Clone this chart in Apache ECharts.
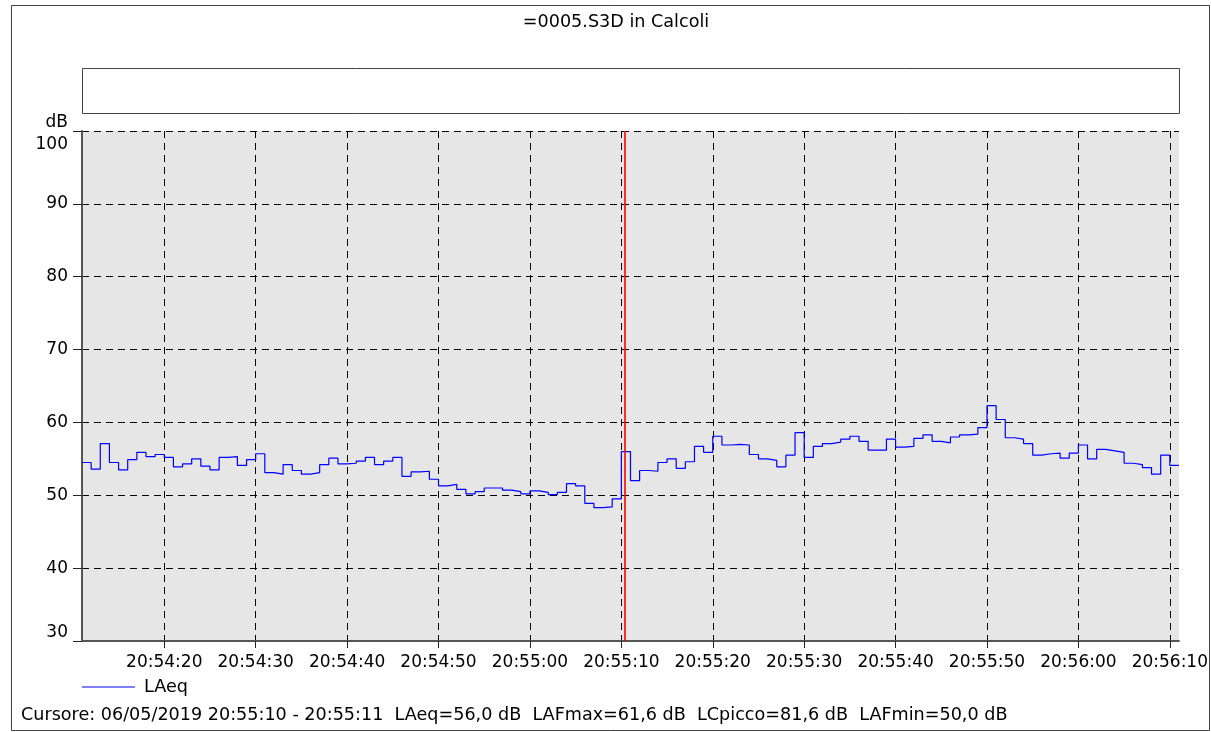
<!DOCTYPE html>
<html>
<head>
<meta charset="utf-8">
<script src="https://cdn.jsdelivr.net/npm/echarts@6/dist/echarts.min.js"></script>
<style>
html,body{margin:0;padding:0;background:#fff;}
#chart{width:1211px;height:732px;}
</style>
</head>
<body>
<div id="chart"></div>
<script>
// ---- data ----
const titleText = '=0005.S3D in Calcoli';
const seriesName = 'LAeq';
const startTime = '20:54:11';
const endTime = '20:56:11';
const cursorTime = '20:55:10';
const cursorText = 'Cursore: 06/05/2019 20:55:10 - 20:55:11  LAeq=56,0 dB  LAFmax=61,6 dB  LCpicco=81,6 dB  LAFmin=50,0 dB';
const yUnit = 'dB';
const yTicks = [30, 40, 50, 60, 70, 80, 90, 100];
const xTickLabels = ['20:54:20','20:54:30','20:54:40','20:54:50','20:55:00','20:55:10',
                     '20:55:20','20:55:30','20:55:40','20:55:50','20:56:00','20:56:10'];
// one value per second, starting at startTime
const laeq = [
  54.5, 53.6, 57.1, 54.5, 53.5, 54.9, 55.9, 55.3, 55.6, 55.2,
  53.9, 54.3, 55.0, 54.0, 53.5, 55.2, 55.3, 54.1, 54.9, 55.7,
  53.1, 52.9, 54.2, 53.4, 52.9, 53.1, 54.2, 55.1, 54.3, 54.4,
  54.7, 55.2, 54.2, 54.7, 55.2, 52.6, 53.2, 53.3, 52.2, 51.3,
  51.5, 50.8, 50.2, 50.5, 51.0, 51.0, 50.7, 50.5, 50.2, 50.6,
  50.4, 50.1, 50.4, 51.6, 51.3, 48.9, 48.3, 48.4, 49.5, 56.0,
  52.0, 53.4, 53.3, 54.5, 55.0, 53.7, 54.6, 56.7, 55.9, 58.1,
  56.9, 57.0, 56.9, 55.6, 55.0, 54.8, 53.9, 55.5, 58.6, 55.2,
  56.7, 57.1, 57.3, 57.7, 58.1, 57.4, 56.2, 56.2, 57.7, 56.6,
  56.7, 57.8, 58.3, 57.4, 57.2, 58.0, 58.3, 58.4, 59.3, 62.3,
  60.4, 57.9, 57.7, 57.1, 55.5, 55.7, 55.8, 55.1, 55.8, 56.9,
  55.0, 56.3, 56.1, 55.9, 54.4, 54.2, 53.8, 52.9, 55.5, 54.1
];

// ---- helpers ----
function toSec(t){ const p = t.split(':').map(Number); return p[0]*3600 + p[1]*60 + p[2]; }
function pad(n){ return (n < 10 ? '0' : '') + n; }
function fmt(s){ s = Math.round(s); return pad(Math.floor(s/3600)) + ':' + pad(Math.floor(s/60)%60) + ':' + pad(s%60); }

const t0 = toSec(startTime);
const t1 = toSec(endTime);
const stepData = laeq.map((v, i) => [t0 + i, v]);
stepData.push([t1, laeq[laeq.length - 1]]);
const xTickVals = xTickLabels.map(toSec);
const cursorX = toSec(cursorTime) + 0.4;

const FONT = 'DejaVu Sans';
const FS = 17;
const FS2 = 17.6;
const RED = '#ff0000';

const chart = echarts.init(document.getElementById('chart'), null, {renderer: 'canvas'});
chart.setOption({
  animation: false,
  backgroundColor: '#ffffff',
  title: {
    text: titleText,
    left: 611, top: 8,
    textAlign: 'center',
    textStyle: {fontFamily: FONT, fontSize: FS2, fontWeight: 'normal', color: '#000'}
  },
  legend: {
    left: 82, top: 678,
    padding: 0,
    itemWidth: 53, itemHeight: 1,
    icon: 'rect',
    data: [{name: seriesName, icon: 'rect', itemStyle: {color: '#0000ff'}}],
    textStyle: {fontFamily: FONT, fontSize: FS2, color: '#000', padding: [0, 0, 0, 4]}
  },
  grid: {
    left: 82, top: 131, right: 31, bottom: 91,
    show: true, backgroundColor: '#e6e6e6', borderWidth: 0
  },
  xAxis: {
    type: 'value',
    min: t0, max: t1,
    axisLine: {show: true, lineStyle: {color: '#555', width: 2}},
    axisTick: {show: true, length: 7, customValues: xTickVals, lineStyle: {color: '#222', width: 1}},
    axisLabel: {
      customValues: xTickVals,
      margin: 13,
      fontFamily: FONT, fontSize: FS, color: '#000',
      formatter: v => fmt(v)
    },
    splitLine: {show: true, lineStyle: {color: '#000', type: [7, 5], width: 1}}
  },
  yAxis: {
    type: 'value',
    min: yTicks[0], max: yTicks[yTicks.length - 1], interval: 10,
    name: yUnit,
    nameLocation: 'end',
    nameGap: 0,
    nameTextStyle: {fontFamily: FONT, fontSize: FS, color: '#000', align: 'right', verticalAlign: 'bottom', padding: [0, 14, 0, 0]},
    axisLine: {show: true, lineStyle: {color: '#555', width: 2}},
    axisTick: {show: true, length: 9, lineStyle: {color: '#222', width: 1}},
    axisLabel: {
      margin: 14,
      fontFamily: FONT, fontSize: FS, color: '#000',
      formatter: v => v === yTicks[yTicks.length - 1] ? '{top|' + v + '}' : (v === yTicks[0] ? '{bot|' + v + '}' : '' + v),
      rich: {
        top: {fontFamily: FONT, fontSize: FS, color: '#000', padding: [27, 0, 0, 0]},
        bot: {fontFamily: FONT, fontSize: FS, color: '#000', padding: [0, 0, 17, 0]}
      }
    },
    splitLine: {show: true, lineStyle: {color: '#000', type: [7, 5], width: 1}}
  },
  series: [{
    name: seriesName,
    type: 'line',
    step: 'end',
    data: stepData,
    symbol: 'none',
    showSymbol: false,
    lineStyle: {color: '#0000ff', width: 1.2},
    itemStyle: {color: '#0000ff'},
    markLine: {
      silent: true,
      symbol: ['none', 'none'],
      label: {show: false},
      itemStyle: {color: RED},
      lineStyle: {color: RED, type: 'solid', width: 1.6, opacity: 1},
      data: [{xAxis: cursorX, lineStyle: {color: RED}, itemStyle: {color: RED}}]
    }
  }],
  graphic: [
    {type: 'rect', shape: {x: 11.5, y: 5.5, width: 1198, height: 725}, style: {fill: 'none', stroke: '#444', lineWidth: 1}, z: -10, silent: true},
    {type: 'rect', shape: {x: 82.5, y: 68.5, width: 1097, height: 45}, style: {fill: '#fff', stroke: '#444', lineWidth: 1}, silent: true},
    {type: 'text', left: 21, top: 706, style: {text: cursorText, font: FS2 + 'px "' + FONT + '"', fill: '#000'}, silent: true}
  ]
});
</script>
</body>
</html>
